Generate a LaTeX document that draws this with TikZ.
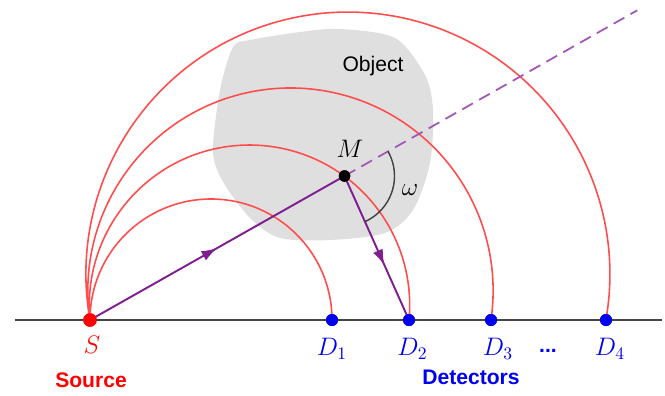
\documentclass[tikz,border=0pt]{standalone}
\usepackage{fontspec}
\setmainfont{Liberation Sans}
\usepackage{tikz}
\usetikzlibrary{arrows.meta,positioning,calc,decorations.markings,angles}
\definecolor{RayRed}{HTML}{FF4D4D}
\definecolor{RayPurple}{HTML}{7F1F8F}
\definecolor{RayDash}{HTML}{A455B8}
\definecolor{ObjGray}{HTML}{DFDFDF}
\definecolor{LineInk}{HTML}{444444}
\definecolor{DetBlue}{HTML}{0000F0}

\begin{document}
\begin{tikzpicture}[
    dot/.style={circle, inner sep=0pt, minimum size=#1},
    srcdot/.style={dot=0.27cm, fill=red},
    detdot/.style={dot=0.24cm, fill=DetBlue},
    mdot/.style={dot=0.23cm, fill=black},
    wave/.style={RayRed, line width=0.9pt},
    ray/.style={RayPurple, line width=1.1pt, postaction={decorate},
      decoration={markings,
        mark=at position #1 with {\arrow{Latex[length=9pt,width=6pt]}}}},
    ray/.default=0.5,
    raydash/.style={RayDash, line width=1pt, dash pattern=on 7pt off 4pt},
    base/.style={LineInk, line width=1.3pt},
    lab/.style={font=\Large, inner sep=1pt},
    caption/.style={font=\large\bfseries, inner sep=1pt}
  ]
  \useasboundingbox (-1.8,-1.5) rectangle (11.5,6.4);

  % the object
  \fill[ObjGray] plot[smooth cycle, tension=0.5] coordinates {
    (2.86,5.46) (3.2,5.6) (4.2,5.76) (5.0,5.82) (6.1,5.64) (6.7,4.9)
    (6.86,4.2) (6.8,3.14) (6.46,2.2) (5.9,1.74) (4.8,1.6) (3.8,1.64)
    (3.2,2.04) (2.64,2.8) (2.46,3.4) (2.6,4.6)};
  \node[font=\large] (obj) at (5.66,5.08) {Object};

  % source, detectors, scattering point
  \coordinate (L) at (-1.5,0);
  \coordinate (R) at (11.44,0);
  \node[srcdot] (S) at (0,0) {};
  \node[detdot] (D1) at (4.84,0) {};
  \node[detdot] (D2) at (6.38,0) {};
  \node[detdot] (D3) at (8.02,0) {};
  \node[detdot] (D4) at (10.32,0) {};
  \node[mdot] (M) at (5.09,2.88) {};
  \coordinate (Far) at ($(S.center)!2.15!(M.center)$);

  % circular arcs S -> D_i
  \draw[wave] (S.center) arc[start angle=180, end angle=0, radius=2.42];
  \draw[wave] (S.center) arc[start angle=185.3, end angle=-5.3, radius=3.204];
  \draw[wave] (S.center) arc[start angle=188.34, end angle=-8.34, radius=4.053];
  \draw[wave] (S.center) arc[start angle=190.1, end angle=-10.1, radius=5.24];

  \draw[base] (L) -- (R);

  % rays
  \draw[raydash] (M.center) -- (Far);
  \draw[ray=0.5] (S.center) -- (M.center);
  \draw[ray=0.62] (M.center) -- (D2.center);
  \pic[draw=black!75, line width=0.8pt, angle radius=1cm] {angle=D2--M--Far};

  % redraw dots on top
  \node[srcdot] at (S) {};
  \foreach \d in {D1,D2,D3,D4} \node[detdot] at (\d) {};
  \node[mdot] at (M) {};

  % labels
  \node[lab] (Mlab) at (5.2,3.42) {$M$};
  \node[lab] (wlab) at (6.4,2.6) {$\omega$};
  \node[lab, text=red] (Slab) at (0.04,-0.5) {$S$};
  \node[lab, text=DetBlue] (D1lab) at (4.84,-0.57) {$D_1$};
  \node[lab, text=DetBlue] (D2lab) at (6.45,-0.57) {$D_2$};
  \node[lab, text=DetBlue] (D3lab) at (8.16,-0.57) {$D_3$};
  \node[caption, text=DetBlue] (more) at (9.16,-0.62) {...};
  \node[lab, text=DetBlue] (D4lab) at (10.4,-0.57) {$D_4$};
  \node[caption, text=red] (src) at (0.02,-1.2) {Source};
  \node[caption, text=DetBlue] (det) at (7.62,-1.14) {Detectors};
\end{tikzpicture}
\end{document}
